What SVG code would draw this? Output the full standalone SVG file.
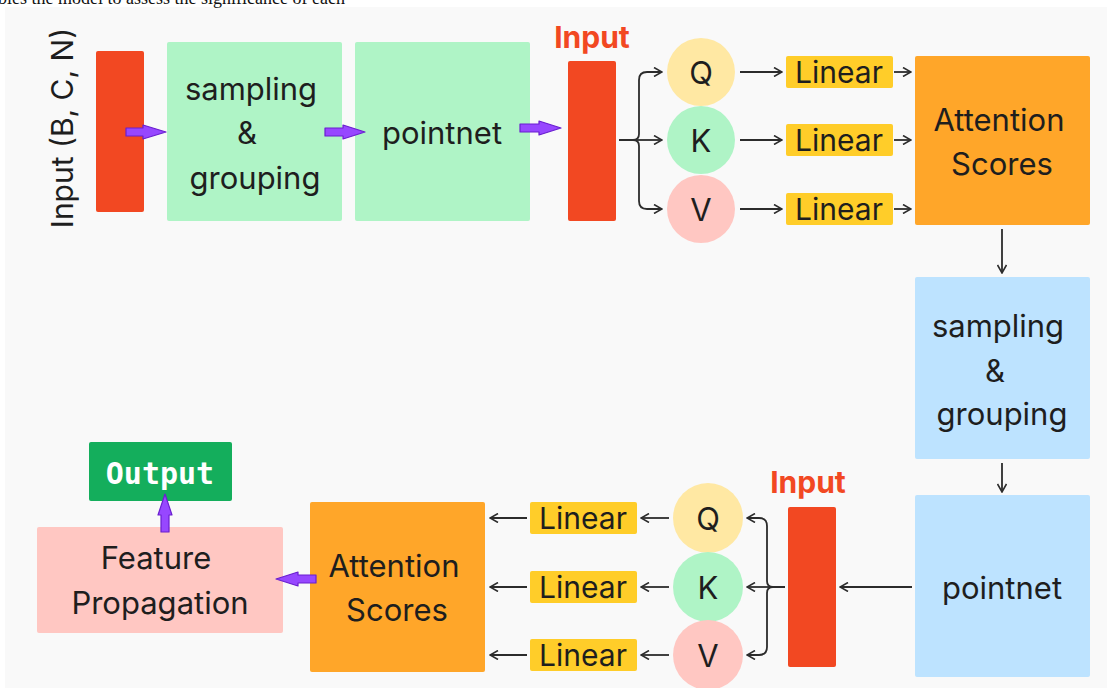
<svg xmlns="http://www.w3.org/2000/svg" width="1107" height="688" viewBox="0 0 1107 688">
<defs>
<style>
.t{font-family:Inter,"Noto Sans","Liberation Sans",sans-serif;fill:#1e1e1e;text-anchor:middle;dominant-baseline:central}
.big{font-size:31px}
.lin{font-size:30px}
.ln{stroke:#2c2c2c;stroke-width:1.8;fill:none}
.pa{fill:#9747ff;stroke:#6a1fcf;stroke-width:1.2;stroke-linejoin:round}
.red{fill:#f24822}
.lbl{font-family:Inter,"Noto Sans","Liberation Sans",sans-serif;font-weight:bold;font-size:30px;fill:#f24822;text-anchor:middle}
</style>
<marker id="ah" viewBox="0 0 10 10" refX="9" refY="5" markerWidth="10" markerHeight="10" markerUnits="userSpaceOnUse" orient="auto">
<path d="M1,0.5 L9,5 L1,9.5" fill="none" stroke="#2c2c2c" stroke-width="1.6"/>
</marker>
</defs>
<rect width="1107" height="688" fill="#ffffff"/>
<rect x="5" y="7" width="1102" height="681" fill="#f9f9f9"/>
<text x="-2" y="4" font-family="Liberation Serif,serif" font-size="18" fill="#111">bles the model to assess the significance of each</text>

<g id="input-label"><text class="t" font-size="30" transform="translate(62,128) rotate(-90)">Input (B, C, N)</text></g>
<g id="input-bar"><rect class="red" x="96" y="51" width="48" height="161" rx="2"/></g>
<g id="sg1"><rect x="167" y="42" width="175" height="179" rx="2" fill="#aff4c6"/>
<text class="t big" x="251" y="88">sampling</text><text class="t big" x="247" y="132">&amp;</text><text class="t big" x="255" y="177">grouping</text></g>
<g id="pn1"><rect x="355" y="42" width="175" height="179" rx="2" fill="#aff4c6"/>
<text class="t big" x="442" y="132">pointnet</text></g>
<g id="in2"><text class="lbl" x="592" y="48">Input</text><rect class="red" x="568" y="61" width="48" height="160" rx="2"/></g>
<g id="q1"><circle cx="701" cy="72" r="34" fill="#ffe8a3"/><text class="t big" x="701" y="72">Q</text></g>
<g id="k1"><circle cx="701" cy="140" r="34" fill="#aff4c6"/><text class="t big" x="701" y="140">K</text></g>
<g id="v1"><circle cx="701" cy="209" r="34" fill="#ffc7c2"/><text class="t big" x="701" y="209">V</text></g>
<g id="l1a"><rect x="786" y="56" width="107" height="32" rx="2" fill="#ffcd29"/><text class="t lin" x="839" y="72">Linear</text></g>
<g id="l1b"><rect x="786" y="124" width="107" height="32" rx="2" fill="#ffcd29"/><text class="t lin" x="839" y="140">Linear</text></g>
<g id="l1c"><rect x="786" y="193" width="107" height="32" rx="2" fill="#ffcd29"/><text class="t lin" x="839" y="209">Linear</text></g>
<g id="att1"><rect x="915" y="56" width="175" height="169" rx="2" fill="#ffa629"/>
<text class="t big" x="999" y="119">Attention</text><text class="t big" x="1002" y="163">Scores</text></g>
<g id="sg2"><rect x="915" y="277" width="175" height="182" rx="2" fill="#bde3ff"/>
<text class="t big" x="998" y="325">sampling</text><text class="t big" x="995" y="370">&amp;</text><text class="t big" x="1002" y="413">grouping</text></g>
<g id="pn2"><rect x="915" y="495" width="175" height="182" rx="2" fill="#bde3ff"/>
<text class="t big" x="1002" y="587">pointnet</text></g>
<g id="in3"><text class="lbl" x="808" y="493">Input</text><rect class="red" x="788" y="507" width="48" height="160" rx="2"/></g>
<g id="q2"><circle cx="708" cy="518" r="35" fill="#ffe8a3"/><text class="t big" x="708" y="518">Q</text></g>
<g id="k2"><circle cx="708" cy="587" r="35" fill="#aff4c6"/><text class="t big" x="708" y="587">K</text></g>
<g id="v2"><circle cx="708" cy="655" r="35" fill="#ffc7c2"/><text class="t big" x="708" y="655">V</text></g>
<g id="l2a"><rect x="530" y="502" width="107" height="32" rx="2" fill="#ffcd29"/><text class="t lin" x="583" y="518">Linear</text></g>
<g id="l2b"><rect x="530" y="571" width="107" height="32" rx="2" fill="#ffcd29"/><text class="t lin" x="583" y="587">Linear</text></g>
<g id="l2c"><rect x="530" y="639" width="107" height="32" rx="2" fill="#ffcd29"/><text class="t lin" x="583" y="655">Linear</text></g>
<g id="att2"><rect x="310" y="502" width="175" height="170" rx="2" fill="#ffa629"/>
<text class="t big" x="394" y="565">Attention</text><text class="t big" x="397" y="609">Scores</text></g>
<g id="fp"><rect x="37" y="527" width="246" height="106" rx="2" fill="#ffc7c2"/>
<text class="t big" x="156" y="557">Feature</text><text class="t big" x="160" y="602">Propagation</text></g>
<g id="out"><rect x="89" y="442" width="143" height="59" rx="2" fill="#14ae5c"/>
<text x="160" y="473" font-family="DejaVu Sans Mono,Liberation Mono,monospace" font-weight="bold" font-size="30" fill="#ffffff" text-anchor="middle" dominant-baseline="central">Output</text></g>

<g id="connectors">
<path class="pa" d="M126,128 L143,128 L143,125 L166,132 L143,139 L143,136 L126,136 Z"/>
<path class="pa" d="M325,128 L343,128 L343,125 L365,132 L343,139 L343,136 L325,136 Z"/>
<path class="pa" d="M520,124 L539,124 L539,121 L561,128 L539,135 L539,132 L520,132 Z"/>
<path class="ln" d="M619,140 H633 Q639,140 639,134 V80 Q639,72 647,72 H662" marker-end="url(#ah)"/>
<path class="ln" d="M633,140 Q639,140 639,146 V201 Q639,209 647,209 H662" marker-end="url(#ah)"/>
<path class="ln" d="M633,140 H662" marker-end="url(#ah)"/>
<path class="ln" d="M740,72 H782" marker-end="url(#ah)"/>
<path class="ln" d="M740,140 H782" marker-end="url(#ah)"/>
<path class="ln" d="M740,209 H782" marker-end="url(#ah)"/>
<path class="ln" d="M894,72 H911" marker-end="url(#ah)"/>
<path class="ln" d="M894,140 H911" marker-end="url(#ah)"/>
<path class="ln" d="M894,209 H911" marker-end="url(#ah)"/>
<path class="ln" d="M1002,229 V273" marker-end="url(#ah)"/>
<path class="ln" d="M1002,463 V492" marker-end="url(#ah)"/>
<path class="ln" d="M912,587 H840" marker-end="url(#ah)"/>
<path class="ln" d="M785,587 H773 Q767,587 767,581 V526 Q767,518 759,518 H747" marker-end="url(#ah)"/>
<path class="ln" d="M773,587 Q767,587 767,593 V647 Q767,655 759,655 H747" marker-end="url(#ah)"/>
<path class="ln" d="M773,587 H747" marker-end="url(#ah)"/>
<path class="ln" d="M669,518 H641" marker-end="url(#ah)"/>
<path class="ln" d="M669,587 H641" marker-end="url(#ah)"/>
<path class="ln" d="M669,655 H641" marker-end="url(#ah)"/>
<path class="ln" d="M527,518 H490" marker-end="url(#ah)"/>
<path class="ln" d="M527,587 H490" marker-end="url(#ah)"/>
<path class="ln" d="M527,655 H490" marker-end="url(#ah)"/>
<path class="pa" d="M316,575 L298,575 L298,572 L276,579 L298,586 L298,583 L316,583 Z"/>
<path class="pa" d="M161,532 L161,515 L158,515 L165,494 L172,515 L169,515 L169,532 Z"/>
</g>
</svg>
